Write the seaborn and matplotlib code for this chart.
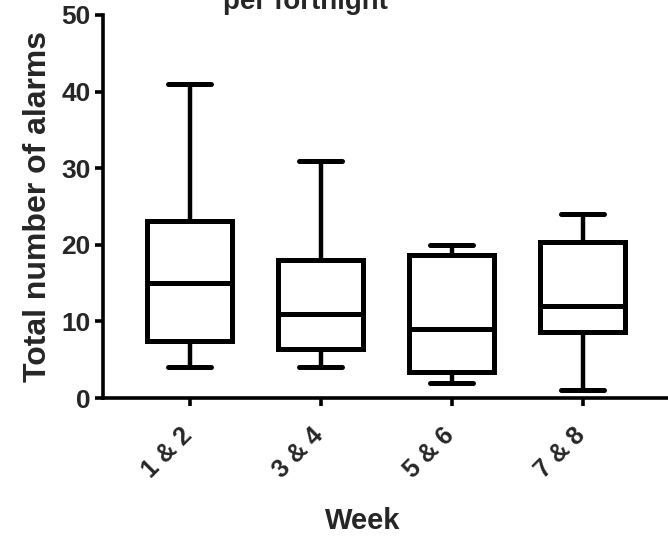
import pandas as pd
import matplotlib
matplotlib.use("Agg")
import matplotlib.pyplot as plt
import matplotlib.transforms as mtransforms
import seaborn as sns

# five-number summaries: min, q1, median, q3, max
weeks = ["1 & 2", "3 & 4", "5 & 6", "7 & 8"]
mins = [4, 4, 2, 1]
q1s = [7.4, 6.4, 3.4, 8.6]
medians = [15, 11, 9, 12]
q3s = [23.1, 18, 18.7, 20.4]
maxs = [41, 31, 20, 24]

rows = []
for i, w in enumerate(weeks):
    for v in (mins[i], q1s[i], medians[i], q3s[i], maxs[i]):
        rows.append({"week": w, "alarms": v})
df = pd.DataFrame(rows)

sns.set_style("white")
plt.rcParams["font.family"] = ["Liberation Sans", "DejaVu Sans"]

fig = plt.figure(figsize=(6.68, 5.37), dpi=100)
ax = fig.add_axes([103 / 668, 1 - 398 / 537, 1 - 103 / 668, (398 - 15) / 537])

lw = 3.6
sns.boxplot(
    data=df, x="week", y="alarms", ax=ax, whis=(0, 100), width=0.65,
    color="white", linecolor="black", linewidth=lw, fliersize=0,
    boxprops=dict(facecolor="white", edgecolor="black", linewidth=lw),
    medianprops=dict(color="black", linewidth=lw),
    whiskerprops=dict(color="black", linewidth=3.2),
    capprops=dict(color="black", linewidth=3.6),
    capwidths=0.33,
)

ax.set_ylim(0, 50)
ax.set_xlim(-0.66, 3.65)
ax.set_yticks([0, 10, 20, 30, 40, 50])
sns.despine(ax=ax)
for s in ("left", "bottom"):
    ax.spines[s].set_linewidth(2.6)
    ax.spines[s].set_color("black")

ax.tick_params(axis="both", direction="out", length=6, width=2.6, color="black",
               left=True, bottom=True)
ax.tick_params(axis="y", pad=3)
ax.tick_params(axis="x", pad=12)
for t in ax.get_yticklabels():
    t.set_fontsize(19)
    t.set_fontweight("bold")
ax.set_xticks(range(len(weeks)))
ax.set_xticklabels(weeks, rotation=45, ha="right", rotation_mode="anchor",
                   fontsize=18, fontweight="semibold")
shift = mtransforms.ScaledTranslation(-7 / 72, 0, fig.dpi_scale_trans)
for t in ax.get_xticklabels():
    t.set_transform(t.get_transform() + shift)

ax.set_xlabel("Week", fontsize=21, fontweight="bold", labelpad=18)
ax.xaxis.label.set_x((363 - 103) / 565)
ax.set_ylabel("Total number of alarms", fontsize=23, fontweight="bold", labelpad=6)

fig.text(305 / 668, 1 - 15 / 537, "Total number of alarms\nper fortnight",
         ha="center", va="bottom", fontsize=20, fontweight="bold")

fig.savefig("out.png", dpi=100)
